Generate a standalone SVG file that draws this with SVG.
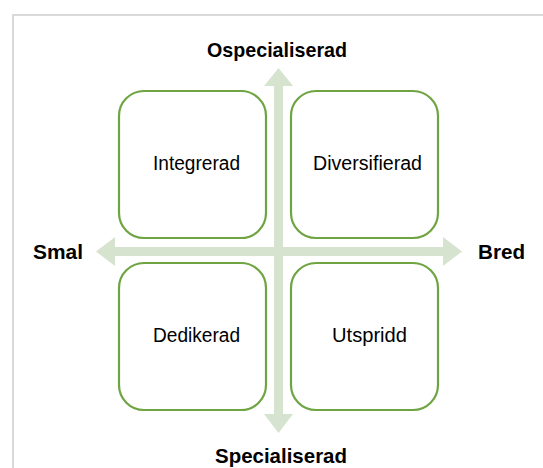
<svg xmlns="http://www.w3.org/2000/svg" width="543" height="468" viewBox="0 0 543 468">
<style>
.box{fill:#ffffff;stroke:#6fa443;stroke-width:2.2}
.arrow{fill:#d6e3cf}
.lbl{font-family:"Liberation Sans",Arial,sans-serif;font-size:20px;fill:#000;text-anchor:middle}
.ax{font-family:"Liberation Sans",Arial,sans-serif;font-size:21px;font-weight:bold;fill:#000;text-anchor:middle}
</style>
<rect x="0" y="0" width="543" height="468" fill="#ffffff"/>
<rect x="13" y="15" width="560" height="480" fill="none" stroke="#d9d9d9" stroke-width="2"/>
<g id="connectors">
<polygon class="arrow" points="96,251.5 115,237 115,247 443,247 443,237 462,251.5 443,266 443,256 115,256 115,266"/>
<polygon class="arrow" points="278.5,68 293,86 283,86 283,414 293,414 278.5,433 264,414 274,414 274,86 264,86"/>
</g>
<g id="integrerad">
<rect class="box" x="119" y="91" width="147" height="147" rx="25"/>
<text class="lbl" x="196.5" y="170" textLength="87" lengthAdjust="spacingAndGlyphs">Integrerad</text>
</g>
<g id="diversifierad">
<rect class="box" x="291" y="91" width="147" height="147" rx="25"/>
<text class="lbl" x="367.5" y="170" textLength="109" lengthAdjust="spacingAndGlyphs">Diversifierad</text>
</g>
<g id="dedikerad">
<rect class="box" x="119" y="263" width="147" height="147" rx="25"/>
<text class="lbl" x="196.5" y="342" textLength="87" lengthAdjust="spacingAndGlyphs">Dedikerad</text>
</g>
<g id="utspridd">
<rect class="box" x="291" y="263" width="147" height="147" rx="25"/>
<text class="lbl" x="369.5" y="342" textLength="75" lengthAdjust="spacingAndGlyphs">Utspridd</text>
</g>
<g id="ospecialiserad"><text class="ax" x="277" y="57" textLength="140" lengthAdjust="spacingAndGlyphs">Ospecialiserad</text></g>
<g id="specialiserad"><text class="ax" x="281" y="463" textLength="132" lengthAdjust="spacingAndGlyphs">Specialiserad</text></g>
<g id="smal"><text class="ax" x="58" y="259" textLength="50" lengthAdjust="spacingAndGlyphs">Smal</text></g>
<g id="bred"><text class="ax" x="501.5" y="259" textLength="47" lengthAdjust="spacingAndGlyphs">Bred</text></g>
</svg>
